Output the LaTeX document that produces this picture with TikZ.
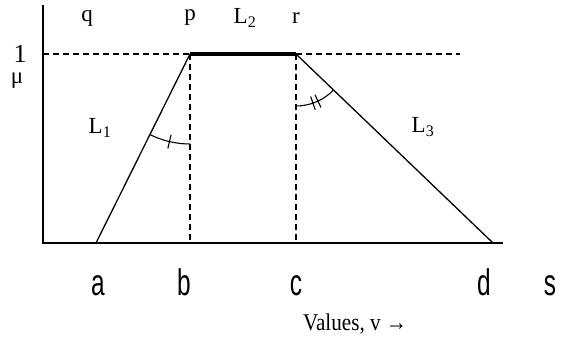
\documentclass[tikz,border=0pt]{standalone}
\usepackage{fontspec}
\usetikzlibrary{calc}
\setmainfont{Liberation Serif}
\newfontfamily\sansn{Liberation Sans}
\tikzset{
  axisline/.style={line width=1.5pt},
  guide/.style={line width=1.1pt, dash pattern=on 6pt off 4pt},
  side/.style={line width=1.3pt},
  top/.style={line width=3.2pt},
  angmark/.style={line width=1.1pt},
  serif/.style={font=\fontsize{23}{27}\selectfont, inner sep=0pt},
  sanslab/.style={font=\sansn\fontsize{37}{40}\selectfont, inner sep=0pt, xscale=0.66, anchor=base},
}
\begin{document}
\begin{tikzpicture}[x=1pt,y=1pt]
\useasboundingbox (0,0) rectangle (565,343);
% key points
\coordinate (O) at (43,100);
\coordinate (ytop) at (43,338);
\coordinate (xend) at (503,100);
\coordinate (p) at (190,289);
\coordinate (r) at (296,289);
\coordinate (a) at (96,100);
\coordinate (b) at (190,100);
\coordinate (c) at (296,100);
\coordinate (d) at (493,100);
\coordinate (h0) at (43,289);
\coordinate (h1) at (460,289);
% guides
\draw[guide] (h0) -- (p);
\draw[guide] (r) -- (h1);
\draw[guide] (p) -- (b);
\draw[guide] (r) -- (c);
% axes
\draw[axisline] (ytop) -- (O) -- (xend);
% trapezoid
\draw[side] (a) -- (p);
\draw[side] (r) -- (d);
\draw[top] (p) -- (r);
% angle at p
\draw[angmark] (p) ++(243.6:90) arc[start angle=243.6, end angle=270, radius=90];
\draw[angmark] ($(p)+(256.8:83)$) -- ($(p)+(256.8:97)$);
% angle at r
\draw[angmark] (r) ++(270:52) arc[start angle=270, end angle=316.2, radius=52];
\draw[angmark] ($(r)+(289:45)$) -- ($(r)+(289:59)$);
\draw[angmark] ($(r)+(295:45)$) -- ($(r)+(295:59)$);
% labels
\node[serif] (lq) at (87,325) {q};
\node[serif] (lp) at (190,325) {p};
\node[serif] (lL2) at (245,325) {L\textsubscript{2}};
\node[serif] (lr) at (296,325) {r};
\node[serif, anchor=base, font=\fontsize{26}{30}\selectfont] (l1) at (20,280) {1};
\node[serif, anchor=base] (lmu) at (17,259) {μ};
\node[serif] (lL1) at (100,215) {L\textsubscript{1}};
\node[serif] (lL3) at (423,216) {L\textsubscript{3}};
\node[sanslab] (la) at (98,48) {a};
\node[sanslab] (lb) at (184,48) {b};
\node[sanslab] (lc) at (296,48) {c};
\node[sanslab] (ld) at (484,48) {d};
\node[sanslab] (ls) at (550,48) {s};
\node[serif, font=\fontsize{24}{28}\selectfont, anchor=west, xscale=0.88] (lv) at (303,19) {Values, v →};
\end{tikzpicture}
\end{document}
